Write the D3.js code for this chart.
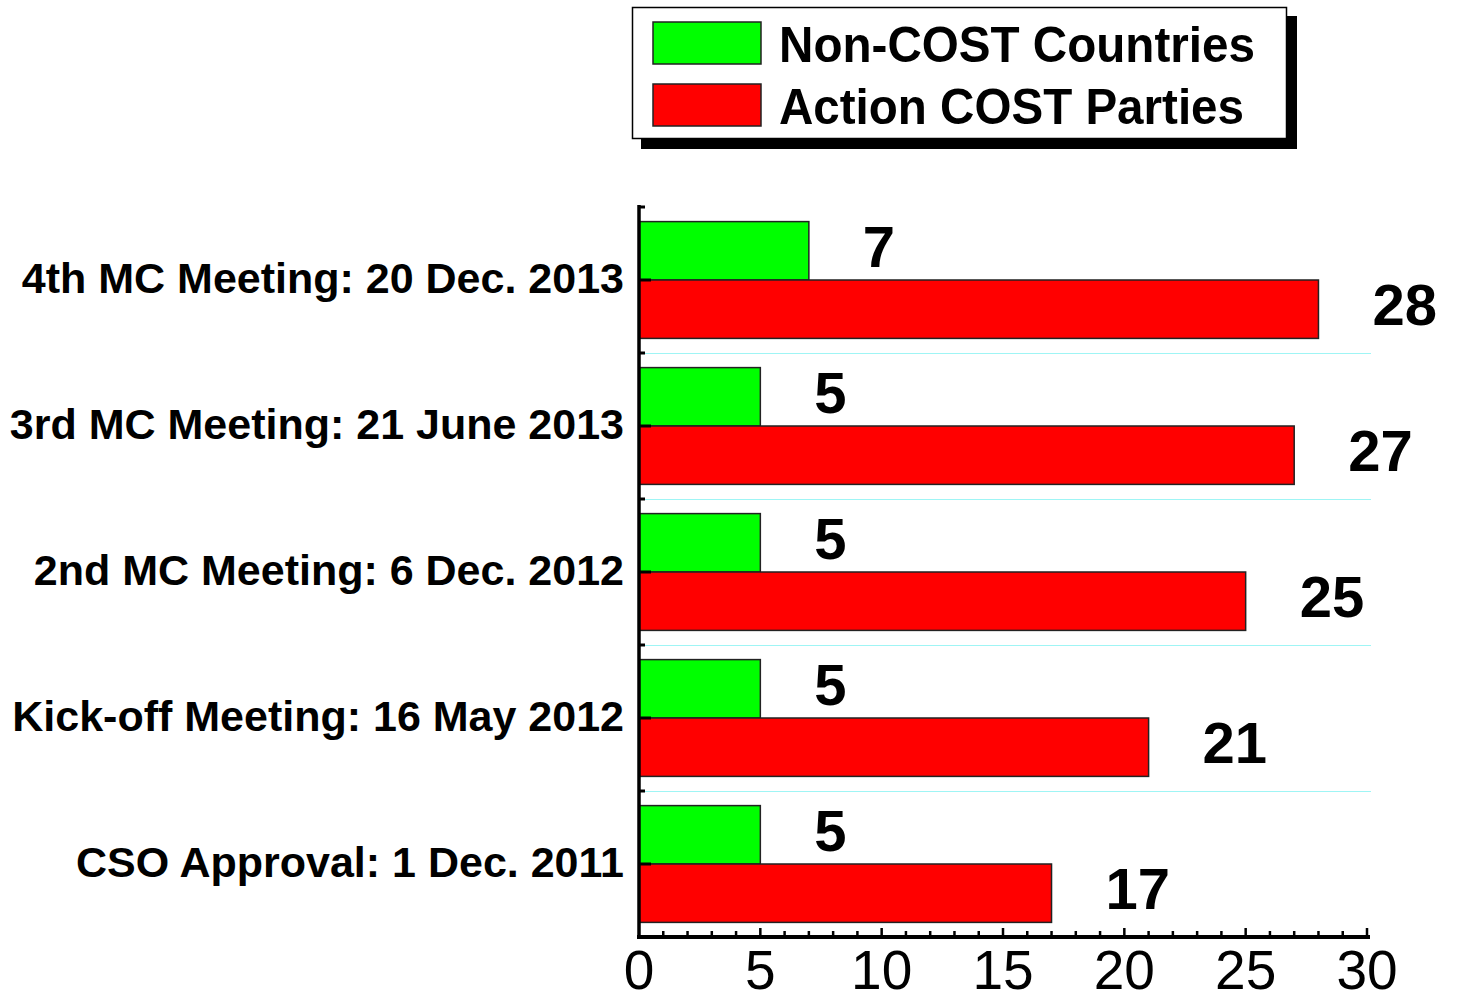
<!DOCTYPE html>
<meta charset="utf-8">
<script src="https://d3js.org/d3.v7.min.js"></script>
<style>
  body { margin: 0; background: #fff; }
  text { font-family: "Liberation Sans", Arial, sans-serif; }
</style>
<div id="my_dataviz"></div>
<script>

// categories, bottom to top as in the original axis
var categories = [
  "CSO Approval: 1 Dec. 2011",
  "Kick-off Meeting: 16 May 2012",
  "2nd MC Meeting: 6 Dec. 2012",
  "3rd MC Meeting: 21 June 2013",
  "4th MC Meeting: 20 Dec. 2013"
];
var series = ["Non-COST Countries", "Action COST Parties"];
var nonCost = [5, 5, 5, 5, 7];
var costParties = [17, 21, 25, 27, 28];
var xTicks = [0, 5, 10, 15, 20, 25, 30];
var colors = ["#00ff00", "#ff0000"];

var width = 1465, height = 994;
var plotLeft = 639, plotRight = 1367, plotTop = 207, plotBottom = 937;

var svg = d3.select("#my_dataviz")
  .append("svg")
    .attr("width", width)
    .attr("height", height);

var x = d3.scaleLinear().domain([0, 30]).range([plotLeft, plotRight]);

// top category first
var y = d3.scaleBand()
  .domain(categories.slice().reverse())
  .range([plotTop, plotBottom])
  .padding(0);

var ySub = d3.scaleBand()
  .domain(series)
  .range([y.bandwidth() * 0.1, y.bandwidth() * 0.9])
  .padding(0);

var rows = categories.map(function(c, i) {
  return {cat: c, vals: [nonCost[i], costParties[i]]};
});

// cyan grid lines between categories
svg.append("g")
  .selectAll("line")
  .data(categories.slice(1))
  .enter().append("line")
    .attr("x1", plotLeft)
    .attr("x2", plotRight + 4)
    .attr("y1", function(d) { return y(d) + y.bandwidth() + 0.5; })
    .attr("y2", function(d) { return y(d) + y.bandwidth() + 0.5; })
    .attr("stroke", "#9ff5f5")
    .attr("stroke-width", 1.2);

// bars
var groups = svg.append("g")
  .selectAll("g")
  .data(rows)
  .enter().append("g")
    .attr("transform", function(d) { return "translate(0," + y(d.cat) + ")"; });

groups.selectAll("rect")
  .data(function(d) { return d.vals.map(function(v, j) { return {s: series[j], v: v, j: j}; }); })
  .enter().append("rect")
    .attr("x", x(0))
    .attr("y", function(d) { return ySub(d.s); })
    .attr("width", function(d) { return x(d.v) - x(0); })
    .attr("height", ySub.bandwidth())
    .attr("fill", function(d) { return colors[d.j]; })
    .attr("stroke", "#222")
    .attr("stroke-width", 1.5);

groups.selectAll("text")
  .data(function(d) { return d.vals.map(function(v, j) { return {s: series[j], v: v, j: j}; }); })
  .enter().append("text")
    .attr("x", function(d) { return x(d.v) + 54; })
    .attr("y", function(d) { return ySub(d.s) + ySub.bandwidth() / 2 + 16; })
    .attr("font-size", 58)
    .attr("font-weight", "bold")
    .text(function(d) { return d.v; });

// category labels
svg.append("g")
  .selectAll("text")
  .data(categories)
  .enter().append("text")
    .attr("x", 624)
    .attr("y", function(d) { return y(d) + y.bandwidth() / 2 + 13; })
    .attr("text-anchor", "end")
    .attr("font-size", 43)
    .attr("font-weight", "bold")
    .text(function(d) { return d; });

// y axis line and ticks
var yAxis = svg.append("g");
yAxis.append("line")
  .attr("x1", plotLeft).attr("x2", plotLeft)
  .attr("y1", plotTop - 2).attr("y2", plotBottom + 2)
  .attr("stroke", "#000").attr("stroke-width", 3.5);
yAxis.selectAll(".minor")
  .data(categories)
  .enter().append("line")
    .attr("x1", plotLeft).attr("x2", plotLeft + 6)
    .attr("y1", function(d) { return y(d); })
    .attr("y2", function(d) { return y(d); })
    .attr("stroke", "#000").attr("stroke-width", 3);
yAxis.selectAll(".major")
  .data(categories)
  .enter().append("line")
    .attr("x1", plotLeft).attr("x2", plotLeft + 12)
    .attr("y1", function(d) { return y(d) + y.bandwidth() / 2; })
    .attr("y2", function(d) { return y(d) + y.bandwidth() / 2; })
    .attr("stroke", "#000").attr("stroke-width", 3);

// x axis
var xAxis = svg.append("g");
xAxis.append("line")
  .attr("x1", plotLeft - 2).attr("x2", plotRight + 3)
  .attr("y1", plotBottom).attr("y2", plotBottom)
  .attr("stroke", "#000").attr("stroke-width", 4);
xAxis.selectAll(".tk")
  .data(d3.range(1, 31))
  .enter().append("line")
    .attr("x1", function(d) { return x(d); })
    .attr("x2", function(d) { return x(d); })
    .attr("y1", plotBottom)
    .attr("y2", function(d) { return d % 5 === 0 ? plotBottom - 9 : plotBottom - 6; })
    .attr("stroke", "#000").attr("stroke-width", 2.5);
xAxis.selectAll(".lbl")
  .data(xTicks)
  .enter().append("text")
    .attr("x", function(d) { return x(d); })
    .attr("y", 989)
    .attr("text-anchor", "middle")
    .attr("font-size", 55)
    .text(function(d) { return d; });

// legend
var legend = svg.append("g");
legend.append("rect")
  .attr("x", 641).attr("y", 16).attr("width", 656).attr("height", 133)
  .attr("fill", "#000");
legend.append("rect")
  .attr("x", 632.5).attr("y", 7.5).attr("width", 654).attr("height", 131)
  .attr("fill", "#fff").attr("stroke", "#000").attr("stroke-width", 1.5);
legend.selectAll(".sw")
  .data(series)
  .enter().append("rect")
    .attr("x", 653)
    .attr("y", function(d, i) { return 22 + i * 62; })
    .attr("width", 108).attr("height", 42)
    .attr("fill", function(d, i) { return colors[i]; })
    .attr("stroke", "#222").attr("stroke-width", 1.5);
legend.selectAll(".lt")
  .data(series)
  .enter().append("text")
    .attr("x", 779)
    .attr("y", function(d, i) { return 62 + i * 62; })
    .attr("font-size", 50)
    .attr("font-weight", "bold")
    .attr("textLength", function(d, i) { return i === 0 ? 476 : 465; })
    .attr("lengthAdjust", "spacingAndGlyphs")
    .text(function(d) { return d; });

</script>
